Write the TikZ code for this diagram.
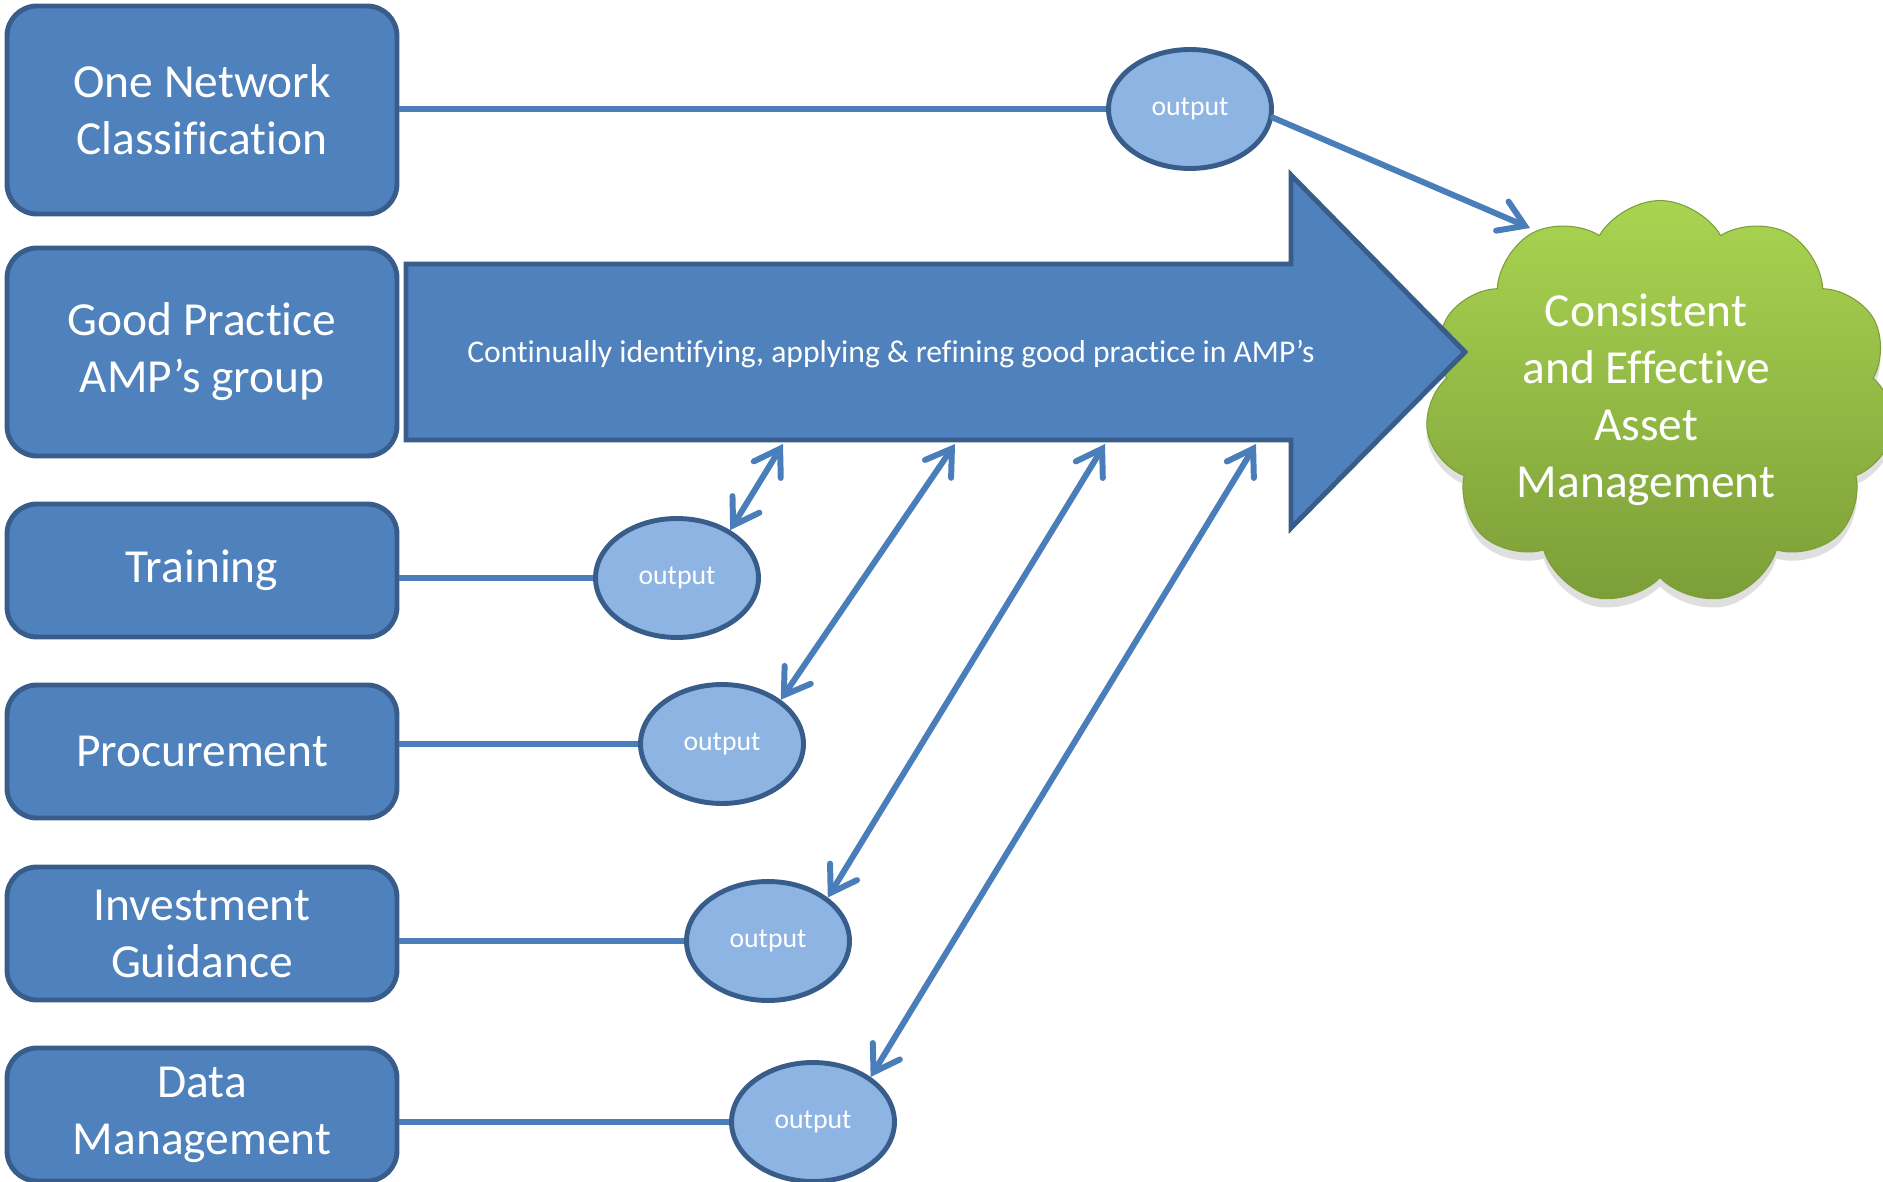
\documentclass[tikz,border=0pt]{standalone}
\usepackage{fontspec}
\setmainfont{Carlito}[Ligatures=NoCommon]
\usetikzlibrary{arrows.meta,positioning,shapes.geometric,shapes.symbols,shadows}
\definecolor{ampBlue}{HTML}{4F81BD}
\definecolor{ampEdge}{HTML}{385D8A}
\definecolor{ampLight}{HTML}{8EB4E3}
\definecolor{ampLine}{HTML}{4A7EBB}
\definecolor{ampGreenTop}{HTML}{A9D451}
\definecolor{ampGreenBot}{HTML}{7C9E38}
\tikzset{
  every picture/.style={font=\fontsize{27}{32.5}\selectfont, text=white},
  amp box/.style={draw=ampEdge, line width=2.8pt, rounded corners=17pt,
    fill=ampBlue, align=center, minimum width=7.8cm, minimum height=2.66cm},
  amp oval/.style={ellipse, draw=ampEdge, line width=2.8pt, fill=ampLight,
    minimum width=3.26cm, minimum height=2.38cm, inner sep=0pt,
    font=\fontsize{15.8}{19}\selectfont},
  amp cloud/.style={cloud, cloud puffs=11, cloud puff arc=120, cloud ignores aspect,
    minimum width=9.4cm, minimum height=8.1cm, top color=ampGreenTop,
    bottom color=ampGreenBot, draw=ampGreenBot, line width=0.6pt,
    drop shadow={shadow xshift=0pt, shadow yshift=-5pt, opacity=0.25}},
  amp flow/.style={draw=ampEdge, fill=ampBlue, line width=2.8pt, line join=miter},
  amp link/.style={draw=ampLine, line width=3.4pt},
  amp tip/.style={line cap=round, -{Straight Barb[length=14pt,width=18pt,line cap=round]}},
  amp twin/.style={amp link, line cap=round,
    {Straight Barb[length=14pt,width=18pt,line cap=round]}-{Straight Barb[length=14pt,width=18pt,line cap=round]}}
}
\begin{document}
\begin{tikzpicture}[x=0.02cm,y=-0.02cm]
  \clip (0,0) rectangle (1883,1182);
  % goal
  \node[amp cloud] (goal) at (1660,403) {};
  \node[align=center] (goaltext) at (1646,400) {Consistent\\and Effective\\Asset\\Management};
  % main flow
  \draw[amp flow] (406,264) -- (1291,264) -- (1291,175) -- (1465,352) -- (1291,528)
    -- (1291,440) -- (406,440) -- cycle;
  \node[font=\fontsize{18}{22}\selectfont] (flow) at (891,354)
    {Continually identifying, applying \& refining good practice in AMP’s};
  \foreach \i/\x in {1/783,2/955,3/1105,4/1256}
    \coordinate (b\i) at (\x,444);
  \coordinate (tip) at (1530,228);

  % inputs
  \node[amp box, minimum height=4.16cm] (net) at (202,110) {One Network\\Classification};
  \node[amp box, minimum height=4.16cm] (good) at (202,352) {Good Practice\\AMP’s group};
  \node[amp box] (train) at (202,570.5) {Training};
  \node[amp box] (proc) at (202,751.5) {Procurement};
  \node[amp box] (invest) at (202,933.5) {Investment\\Guidance};
  \node[amp box] (data) at (202,1114.5) {Data\\Management};

  % outputs
  \node[amp oval] (o1) at (1190,109) {output};
  \node[amp oval] (o2) at (677,578) {output};
  \node[amp oval] (o3) at (722,744) {output};
  \node[amp oval] (o4) at (768,941) {output};
  \node[amp oval] (o5) at (813,1122) {output};

  \draw[amp link] (net.east |- o1) -- (o1);
  \draw[amp link] (train.east |- o2) -- (o2);
  \draw[amp link] (proc.east |- o3) -- (o3);
  \draw[amp link] (invest.east |- o4) -- (o4);
  \draw[amp link] (data.east |- o5) -- (o5);

  \draw[amp link, amp tip] (o1.-6) -- (tip);
  \draw[amp twin] (b1) -- (o2.42);
  \draw[amp twin] (b2) -- (o3.37);
  \draw[amp twin] (b3) -- (o4.36);
  \draw[amp twin] (b4) -- (o5.38);
\end{tikzpicture}
\end{document}
